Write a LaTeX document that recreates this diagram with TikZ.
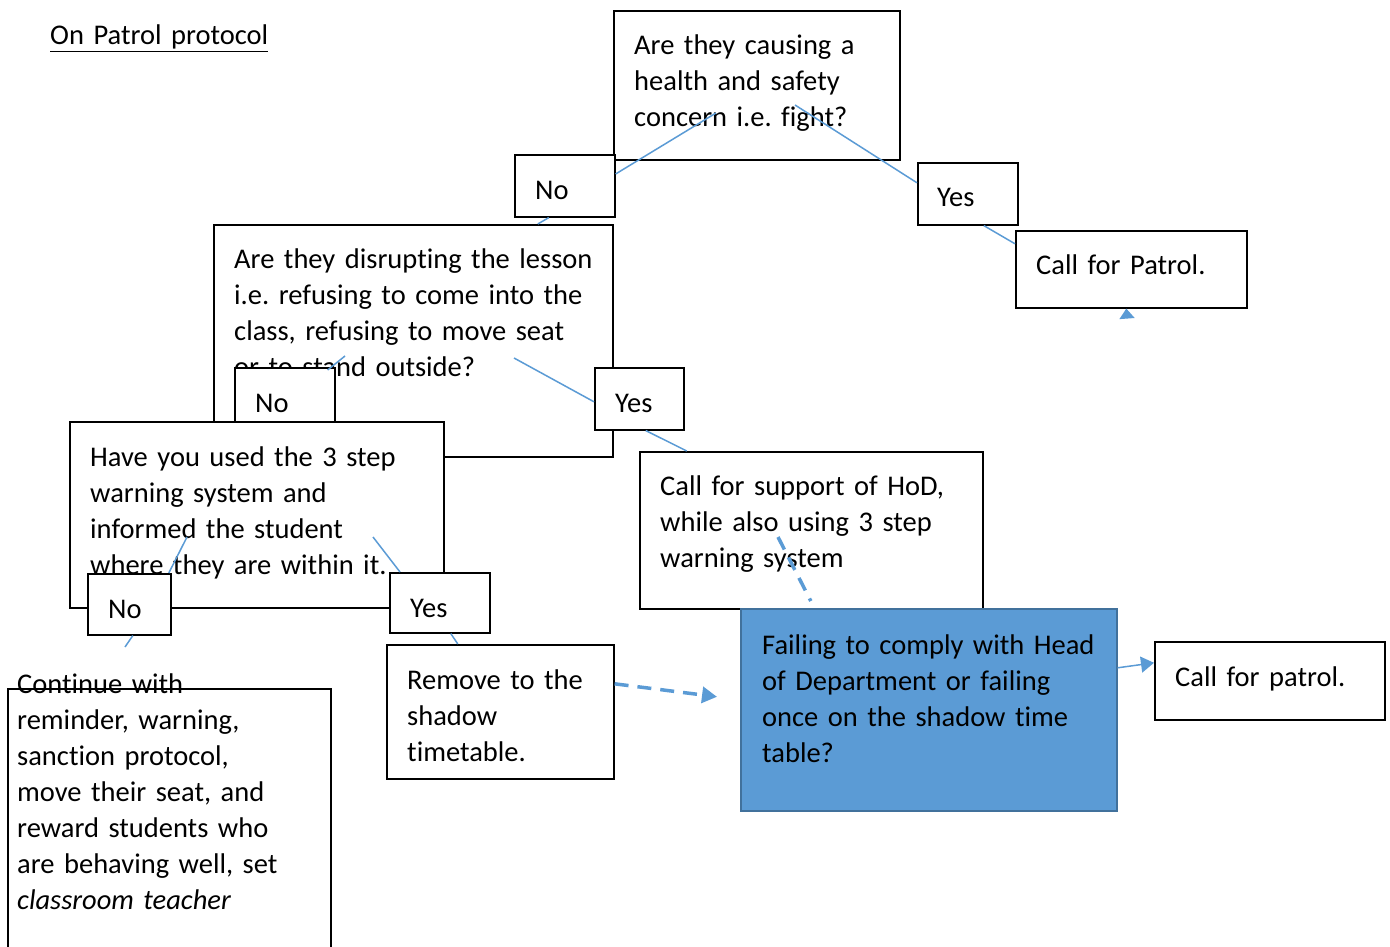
\documentclass[tikz,border=0pt]{standalone}
\usepackage{fontspec}
\setmainfont{Carlito}[Ligatures={NoCommon}]
\usetikzlibrary{arrows.meta}
\definecolor{flowblue}{RGB}{91,155,213}
\definecolor{flowblueedge}{RGB}{65,113,156}
\newcommand\flowfont{\fontsize{28.5pt}{36pt}\selectfont\frenchspacing}

\begin{document}
\begin{tikzpicture}[x=1pt,y=-1pt,
  box/.style={draw,line width=1.6pt,fill=white,anchor=north west,inner sep=0pt},
  txt/.style={anchor=base west,align=left,text width=600pt,inner sep=0pt,font=\flowfont},
  link/.style={draw=flowblue,line width=1.5pt},
  dlink/.style={draw=flowblue,line width=3.5pt,dash pattern=on 14pt off 9pt}]
  \useasboundingbox (0,0) rectangle (1390,947);
  \node[txt] (title) at (50,45) {\underline{On Patrol protocol}};

  \node[box,minimum width=286pt,minimum height=149pt] (qa) at (613,10) {};
  \node[txt] (qatext) at ([shift={(21,45)}]qa.north west) {Are they causing a\\health and safety\\concern i.e. fight?};
  \node[box,minimum width=100pt,minimum height=62pt] (no1) at (514,154) {};
  \node[txt] (no1text) at ([shift={(21,45)}]no1.north west) {No};
  \node[box,minimum width=100pt,minimum height=62pt] (yes1) at (917,162) {};
  \node[txt] (yes1text) at ([shift={(20,45)}]yes1.north west) {Yes};
  \node[box,minimum width=231pt,minimum height=77pt] (callA) at (1015,230) {};
  \node[txt] (callAtext) at ([shift={(21,44)}]callA.north west) {Call for Patrol.};

  \node[box,minimum width=399pt,minimum height=232pt] (qb) at (213,224) {};
  \node[txt] (qbtext) at ([shift={(21,44)}]qb.north west) {Are they disrupting the lesson\\i.e. refusing to come into the\\class, refusing to move seat\\or to stand outside?};
  \node[box,minimum width=100pt,minimum height=61pt] (no2) at (234,367) {};
  \node[txt] (no2text) at ([shift={(21,45)}]no2.north west) {No};
  \node[box,minimum width=89pt,minimum height=62pt] (yes2) at (594,367) {};
  \node[txt] (yes2text) at ([shift={(21,45)}]yes2.north west) {Yes};

  \node[box,minimum width=374pt,minimum height=186pt] (qc) at (69,421) {};
  \node[txt] (qctext) at ([shift={(21,45)}]qc.north west) {Have you used the 3 step\\warning system and\\informed the student\\where they are within it.};
  \node[box,minimum width=83pt,minimum height=61pt] (no3) at (87,573) {};
  \node[txt] (no3text) at ([shift={(21,45)}]no3.north west) {No};
  \node[box,minimum width=100pt,minimum height=60pt] (yes3) at (389,572) {};
  \node[txt] (yes3text) at ([shift={(21,45)}]yes3.north west) {Yes};

  \node[box,minimum width=343pt,minimum height=157pt] (sd) at (639,451) {};
  \node[txt] (sdtext) at ([shift={(21,44)}]sd.north west) {Call for support of HoD,\\while also using 3 step\\warning system};
  \node[box,fill=flowblue,draw=flowblueedge,minimum width=376pt,minimum height=202pt] (fh) at (740,608) {};
  \node[txt] (fhtext) at ([shift={(22,46)}]fh.north west) {Failing to comply with Head\\of Department or failing\\once on the shadow time\\table?};
  \node[box,minimum width=230pt,minimum height=78pt] (callB) at (1154,641) {};
  \node[txt] (callBtext) at ([shift={(21,45)}]callB.north west) {Call for patrol.};
  \node[box,minimum width=227pt,minimum height=134pt] (rs) at (386,644) {};
  \node[txt] (rstext) at ([shift={(21,45)}]rs.north west) {Remove to the\\shadow\\timetable.};
  \node[box,fill=none,minimum width=323pt,minimum height=280pt] (ce) at (7,688) {};
  \node[txt] (cetext) at ([shift={(10,5)}]ce.north west) {Continue with\\reminder, warning,\\sanction protocol,\\move their seat, and\\reward students who\\are behaving well, set\\\textit{classroom teacher}};

  % loose ends of the connectors
  \coordinate (qaL) at (716,113);
  \coordinate (qaR) at (795,105);
  \coordinate (qbL) at (345,356);
  \coordinate (qbR) at (514,358);
  \coordinate (qcL) at (187,537);
  \coordinate (qcR) at (373,537);
  \coordinate (sdM) at (778,537);
  \coordinate (ceT) at (125,647);
  \coordinate (callAT) at (1127,318);

  \draw[link] ([shift={(0,20)}]no1.north east) -- (qaL);
  \draw[link] ([shift={(-16,0)}]no1.south) -- ([shift={(124.5,0)}]qb.north);
  \draw[link] (qaR) -- ([shift={(0,-11)}]yes1.west);
  \draw[link] ([shift={(16,0)}]yes1.south) -- ([shift={(0,-25.5)}]callA.west);
  \draw[link,-{Triangle[length=10pt,width=15pt]}] (callAT) -- ([shift={(-5,0)}]callA.south);
  \draw[link] (qbL) -- ([shift={(-8,3)}]no2.north east);
  \draw[link] (qbR) -- ([shift={(0,3)}]yes2.west);
  \draw[link] ([shift={(6.5,0)}]yes2.south) -- ([shift={(-124.5,0)}]sd.north);
  \draw[link] ([shift={(39.5,0)}]no3.north) -- (qcL);
  \draw[link] ([shift={(3.5,0)}]no3.south) -- (ceT);
  \draw[link] (qcR) -- ([shift={(11,0)}]yes3.north west);
  \draw[link] ([shift={(11,0)}]yes3.south) -- ([shift={(-42.5,0)}]rs.north);
  \draw[dlink] (sdM) -- ([shift={(-118,-7)}]fh.north);
  \draw[dlink,-{Triangle[length=15pt,width=16pt]}] ([shift={(0,-28)}]rs.east) -- ([shift={(-23,-13)}]fh.west);
  \draw[link,-{Triangle[length=13pt,width=16pt]}] ([shift={(0,-42)}]fh.east) -- ([shift={(0,-18)}]callB.west);
\end{tikzpicture}
\end{document}
